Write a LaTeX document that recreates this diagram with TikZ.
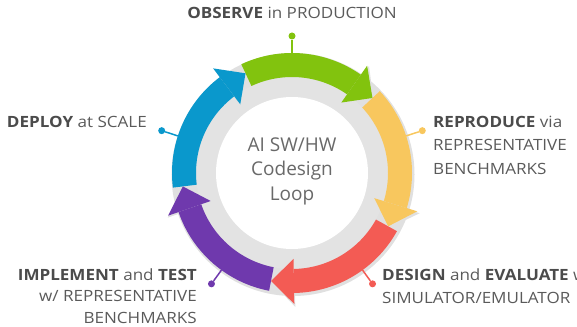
\documentclass[tikz,border=0pt]{standalone}
\usepackage{fontspec}
\setmainfont[FakeStretch=1.1]{Open Sans}
\newfontfamily\titlefont{Open Sans}
\definecolor{obsgreen}{RGB}{130,195,14}
\definecolor{repyellow}{RGB}{248,199,94}
\definecolor{desred}{RGB}{243,91,84}
\definecolor{impurple}{RGB}{111,57,173}
\definecolor{depblue}{RGB}{10,152,204}
\definecolor{ringgray}{RGB}{227,227,227}
\definecolor{txtgray}{RGB}{90,90,90}
\definecolor{boldgray}{RGB}{75,75,75}
\newcommand{\hl}[1]{{\bfseries\color{boldgray}#1}}
\begin{document}
\begin{tikzpicture}[x=1pt,y=1pt,
    steplabel/.style={text=txtgray, font=\fontsize{15.5}{#1}\selectfont, inner sep=0pt},
    steplabel/.default=22.5,
    pindot/.style={circle, fill=#1, inner sep=0pt, minimum size=7pt},
    pinline/.style={#1, line width=1.5pt}]
  \useasboundingbox (-292,-153) rectangle (285,173);
  \clip (-292,-153) rectangle (285,173);
  % soft shadow of the ring
  \begin{scope}[shift={(1,-1.5)}, transparency group, opacity=0.12]
    \fill[black] (0,0) circle (121.5);
    \foreach \tip in {43,-29,-101,-173,-245}
      \fill[black] (\tip+12:86) -- (\tip+12:132.5) -- (\tip:110) -- cycle;
  \end{scope}
  % gray ring behind the arrows
  \fill[ringgray] (0,0) circle (96);
  \fill[white] (0,0) circle (76);
  % bands, then the heads over the start of the next band
  \foreach \from/\to/\col in {115/55/obsgreen, 43/-17/repyellow, -29/-89/desred, -101/-161/impurple, -173/-233/depblue}
    \fill[\col] (\from:120) arc (\from:\to:120) -- (\to:96) arc (\to:\from:96) -- cycle;
  \foreach \tip/\col in {43/obsgreen, -29/repyellow, -101/desred, -173/impurple, -245/depblue}
    \fill[\col] (\tip+12:86) -- (\tip+12:131) -- (\tip:110) -- cycle;
  % pins
  \foreach \ang/\col/\name in {90/obsgreen/obs, 18/repyellow/rep, -54/desred/des, -126/impurple/imp, 162/depblue/dep} {
    \coordinate (\name base) at (\ang:120);
    \node[pindot=\col] (\name dot) at (\ang:137) {};
    \draw[pinline=\col] (\name base) -- (\name dot);
  }
  \node[align=center, text={rgb,255:red,105;green,105;blue,105}, font=\titlefont\fontsize{19}{24.5}\selectfont] (title) at (0,2) {AI SW/HW\\Codesign\\Loop};
  \node[steplabel] (observe) at (0,160) {\hl{OBSERVE} in PRODUCTION};
  \node[steplabel=23.5, anchor=west, align=left] (reproduce) at (141,28) {\hl{REPRODUCE} via\\REPRESENTATIVE\\BENCHMARKS};
  \node[steplabel, anchor=west, align=left] (design) at (90,-113) {\hl{DESIGN} and \hl{EVALUATE} w/\\SIMULATOR/EMULATOR};
  \node[steplabel=21.5, anchor=east, align=right] (implement) at (-95,-123) {\hl{IMPLEMENT} and \hl{TEST}\\w/ REPRESENTATIVE\\BENCHMARKS};
  \node[steplabel, anchor=east] (deploy) at (-145,51.5) {\hl{DEPLOY} at SCALE};
\end{tikzpicture}
\end{document}
